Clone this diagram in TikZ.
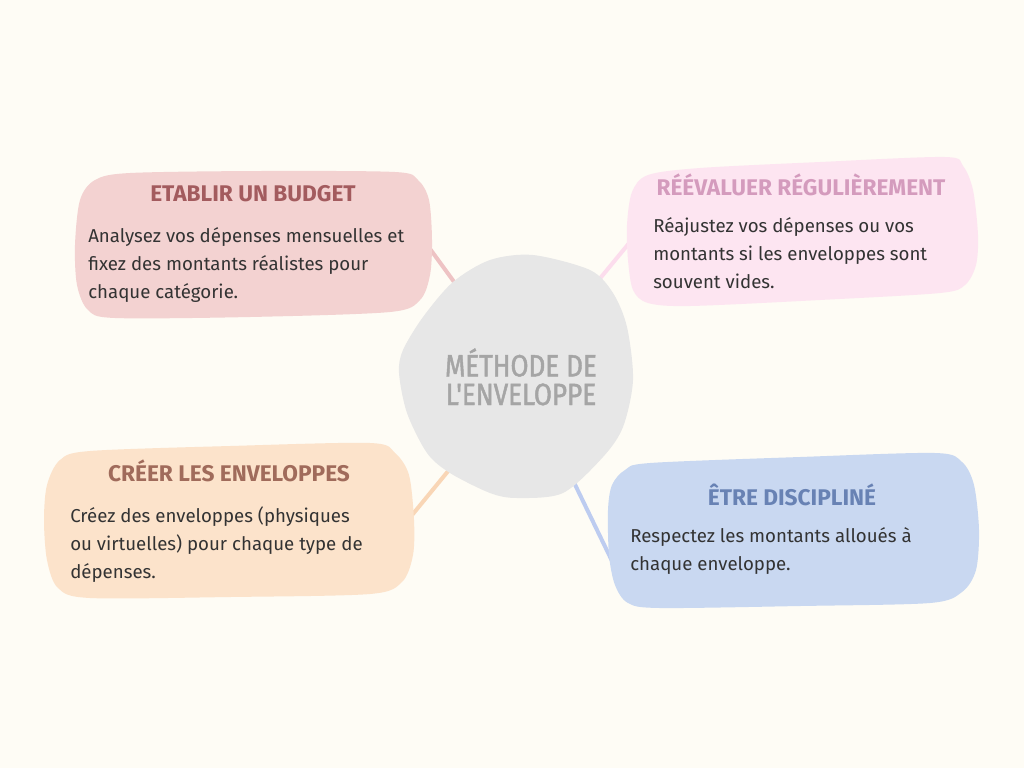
\documentclass[tikz,border=0pt]{standalone}
\usepackage{fontspec}
\setmainfont{Fira Sans}
\newfontfamily\condfont[FakeStretch=0.85,FakeBold=1.5]{Fira Sans}
\usetikzlibrary{
  positioning,  % Function "of" (e.g. [right=of x])
}
\definecolor{bgcol}{HTML}{FEFCF5}
\definecolor{bodytext}{HTML}{333333}
\definecolor{budgetfill}{HTML}{F3D2D1}
\definecolor{budgettitle}{HTML}{A35B5E}
\definecolor{budgetlink}{HTML}{EEC3C4}
\definecolor{revalfill}{HTML}{FDE5F1}
\definecolor{revaltitle}{HTML}{D49BBD}
\definecolor{revallink}{HTML}{FCDDED}
\definecolor{createfill}{HTML}{FCE3CB}
\definecolor{createtitle}{HTML}{A06B5B}
\definecolor{createlink}{HTML}{F9D6B6}
\definecolor{discfill}{HTML}{C9D8F1}
\definecolor{disctitle}{HTML}{6882B4}
\definecolor{disclink}{HTML}{BDCCF0}
\definecolor{centrefill}{HTML}{E7E7E7}
\definecolor{centretext}{HTML}{A5A5A5}
\newcommand{\myblob}[2]{\fill[#1] plot[smooth cycle,tension=0.5] coordinates {#2};}
\tikzset{
  semithick,
  px/.style={
    x=0.75pt,
    y=-0.75pt
  },
  my title/.style={
    font=\bfseries\fontsize{17}{20}\selectfont,
    anchor=base,
    inner sep=0mm
  },
  % anchor "base" of a multi-line node is its last line
  my text/.style={
    font=\fontsize{14}{21}\selectfont,
    text=bodytext,
    align=left,
    anchor=base west,
    inner sep=0mm
  },
  my centre/.style={
    font=\condfont\fontsize{23}{21.5}\selectfont,
    text=centretext,
    align=center,
    anchor=base,
    inner sep=0mm
  },
  my link/.style={
    line width=3pt
  }
}
\begin{document}
\begin{tikzpicture}[px]
\fill[bgcol] (0,0) rectangle (1024,768);
\useasboundingbox (0,0) rectangle (1024,768);
% link ends (hidden under the blobs)
\coordinate (budget-end) at (425,242);
\coordinate (centre-nw)  at (468,301);
\coordinate (reval-end)  at (635,236);
\coordinate (centre-ne)  at (588,293);
\coordinate (create-end) at (408,520);
\coordinate (centre-sw)  at (458,459);
\coordinate (disc-end)   at (613,563);
\coordinate (centre-se)  at (566,466);
\draw[my link,budgetlink] (budget-end) -- (centre-nw);
\draw[my link,revallink]  (reval-end)  -- (centre-ne);
\draw[my link,createlink] (create-end) -- (centre-sw);
\draw[my link,disclink]   (disc-end)   -- (centre-se);
% blobs
\myblob{centrefill}{(533,255) (490,260) (453,282) (423,317) (403,350) (399,373) (407,413) (427,453) (450,473) (490,493) (517,498) (563,493) (603,457) (623,427) (633,380) (627,327) (613,293) (590,270)}
\myblob{budgetfill}{(130,173) (260,171) (395,172) (418,180) (429,200) (432,240) (430,275) (420,300) (390,312) (250,317) (115,318) (88,310) (77,285) (75,245) (80,200) (95,180)}
\myblob{revalfill}{(700,168) (820,162) (945,157) (963,166) (973,190) (978,235) (976,265) (965,285) (940,293) (820,300) (690,306) (648,303) (633,290) (628,260) (627,225) (632,192) (648,175)}
\myblob{createfill}{(90,451) (230,446) (370,443) (395,453) (409,475) (414,520) (413,555) (402,582) (370,594) (230,597) (90,598) (58,588) (47,560) (44,520) (47,485) (60,460)}
\myblob{discfill}{(650,463) (800,457) (935,453) (962,462) (974,485) (979,530) (976,570) (962,592) (930,603) (800,606) (660,608) (628,603) (615,585) (609,555) (608,510) (612,485) (625,470)}
% texts
\node[my centre] (methode) at (521,405) {MÉTHODE DE\\L'ENVELOPPE};
\node[my title,text=budgettitle] (budget) at (253,201) {ETABLIR UN BUDGET};
\node[my text] (budget-txt) at (88,298) {Analysez vos dépenses mensuelles et\\fixez des montants réalistes pour\\chaque catégorie.};
\node[my title,text=revaltitle] (reval) at (801,195) {RÉÉVALUER RÉGULIÈREMENT};
\node[my text] (reval-txt) at (653,288) {Réajustez vos dépenses ou vos\\montants si les enveloppes sont\\souvent vides.};
\node[my title,text=createtitle] (create) at (229,481) {CRÉER LES ENVELOPPES};
\node[my text] (create-txt) at (70,578) {Créez des enveloppes (physiques\\ou virtuelles) pour chaque type de\\dépenses.};
\node[my title,text=disctitle] (disc) at (792,505) {ÊTRE DISCIPLINÉ};
\node[my text] (disc-txt) at (630,570) {Respectez les montants alloués à\\chaque enveloppe.};
\end{tikzpicture}
\end{document}
